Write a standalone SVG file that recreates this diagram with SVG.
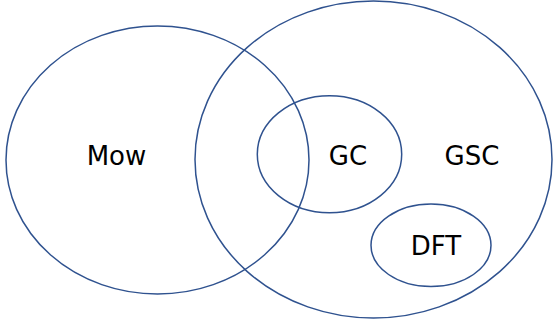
<svg xmlns="http://www.w3.org/2000/svg" width="553" height="329" viewBox="0 0 553 329">
<style>
.s{fill:none;stroke:#2F528F;stroke-width:1.5}
.t{font-family:"DejaVu Sans",sans-serif;font-size:26px;fill:#000;text-anchor:middle}
</style>
<rect width="553" height="329" fill="#fff"/>
<g id="Mow"><ellipse class="s" cx="157.5" cy="160" rx="151.5" ry="134"/><text class="t" x="116.5" y="165">Mow</text></g>
<g id="GSC"><ellipse class="s" cx="373.5" cy="159.5" rx="178.5" ry="158.5"/><text class="t" x="472" y="165">GSC</text></g>
<g id="GC"><ellipse class="s" cx="329.5" cy="154.2" rx="72.2" ry="58.5"/><text class="t" x="348" y="164.5">GC</text></g>
<g id="DFT"><ellipse class="s" cx="431" cy="245.3" rx="60" ry="41.3"/><text class="t" x="436" y="254.5">DFT</text></g>
<g id="connectors"></g>
</svg>
